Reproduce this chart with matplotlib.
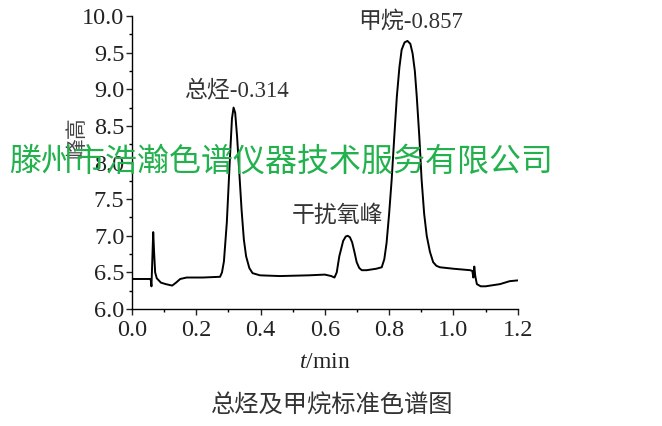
import matplotlib
import matplotlib.pyplot as plt
from matplotlib.ticker import MultipleLocator

matplotlib.use("Agg")

# Chromatogram trace
time_min = [
    0.0, 0.058, 0.0605, 0.066, 0.069, 0.072, 0.077, 0.09, 0.105, 0.125,
    0.137, 0.15, 0.17, 0.22, 0.274, 0.28, 0.286, 0.295, 0.305, 0.311,
    0.316, 0.321, 0.327, 0.334, 0.341, 0.348, 0.355, 0.365, 0.375, 0.398,
    0.46, 0.55, 0.6, 0.62, 0.63, 0.637, 0.645, 0.657, 0.665, 0.671,
    0.678, 0.685, 0.692, 0.699, 0.707, 0.715, 0.73, 0.76, 0.777, 0.785,
    0.792, 0.8, 0.808, 0.816, 0.824, 0.832, 0.839, 0.848, 0.857, 0.866,
    0.873, 0.88, 0.886, 0.894, 0.901, 0.909, 0.917, 0.927, 0.937, 0.947,
    0.958, 1.0, 1.052, 1.059, 1.062, 1.065, 1.068, 1.073, 1.085, 1.1,
    1.145, 1.175, 1.198,
]
peak_height = [
    6.41, 6.41, 6.31, 7.05, 6.75, 6.5, 6.42, 6.36, 6.34, 6.32,
    6.36, 6.41, 6.43, 6.43, 6.44, 6.50, 6.65, 7.18, 8.09, 8.6,
    8.75, 8.68, 8.35, 7.85, 7.35, 6.95, 6.72, 6.56, 6.49, 6.46,
    6.45, 6.46, 6.47, 6.45, 6.43, 6.50, 6.72, 6.93, 6.99, 7.00,
    6.98, 6.91, 6.78, 6.64, 6.56, 6.53, 6.53, 6.55, 6.57, 6.68,
    6.90, 7.3, 7.77, 8.35, 8.90, 9.3, 9.54, 9.64, 9.66, 9.62,
    9.49, 9.25, 8.90, 8.35, 7.77, 7.3, 7.00, 6.78, 6.64, 6.59,
    6.57, 6.55, 6.53, 6.52, 6.43, 6.58, 6.45, 6.34, 6.31, 6.31,
    6.34, 6.38, 6.39,
]

# Peak labels: (text, t, height)
peak_labels = ["总烃-0.314", "甲烷-0.857", "干扰氧峰"]
label_t = [0.324, 0.868, 0.638]
label_y = [8.99, 9.92, 7.26]

SERIF = ["Liberation Serif", "Noto Sans CJK SC"]
plt.rcParams["font.family"] = SERIF
plt.rcParams["mathtext.fontset"] = "custom"
plt.rcParams["mathtext.rm"] = "Liberation Serif"
plt.rcParams["mathtext.it"] = "Liberation Serif:italic"

fig = plt.figure(figsize=(6.62, 4.26), dpi=100)
ax = fig.add_axes([0.1994, 0.2746, 0.5826, 0.6878])

ax.plot(time_min, peak_height, color="black", linewidth=1.4)

ax.set_xlim(0, 1.2)
ax.set_ylim(6.0, 10.0)
ax.xaxis.set_major_locator(MultipleLocator(0.2))
ax.xaxis.set_minor_locator(MultipleLocator(0.1))
ax.yaxis.set_major_locator(MultipleLocator(0.5))
ax.yaxis.set_minor_locator(MultipleLocator(0.25))
ax.xaxis.set_major_formatter(lambda v, p: f"{v:.1f}")
ax.yaxis.set_major_formatter(lambda v, p: f"{v:.1f}")

for side in ["top", "right"]:
    ax.spines[side].set_visible(False)
for side in ["left", "bottom"]:
    ax.spines[side].set_linewidth(1.0)

ax.tick_params(which="major", direction="out", length=4, width=1.0,
               labelsize=17.5, pad=1.5, colors="#222222")
ax.tick_params(axis="x", which="major", pad=4)
ax.tick_params(which="minor", direction="out", length=2.5, width=1.0)

ax.set_xlabel(r"$t$/min", fontsize=17, color="#222222", labelpad=8)
ax.set_ylabel("峰高", fontsize=15, color="#444444",
              family=["Noto Sans CJK SC"])
ax.yaxis.set_label_coords(-0.115, 0.585)

for txt, tx, ty in zip(peak_labels, label_t, label_y):
    ax.text(tx, ty, txt, ha="center", va="center", fontsize=16.5,
            color="#333333", family=SERIF)

# Caption below the chart
fig.text(332 / 662, 1 - 406 / 426, "总烃及甲烷标准色谱图", ha="center",
         va="center", fontsize=17.5, color="#333333",
         family=["Noto Sans CJK SC"])

# Green watermark across the plot
fig.text(281 / 662, 1 - 162 / 426, "滕州市浩瀚色谱仪器技术服务有限公司",
         ha="center", va="center", fontsize=23, color="#23b14d",
         family=["Noto Sans CJK SC"])

fig.savefig("out.png", dpi=100)
